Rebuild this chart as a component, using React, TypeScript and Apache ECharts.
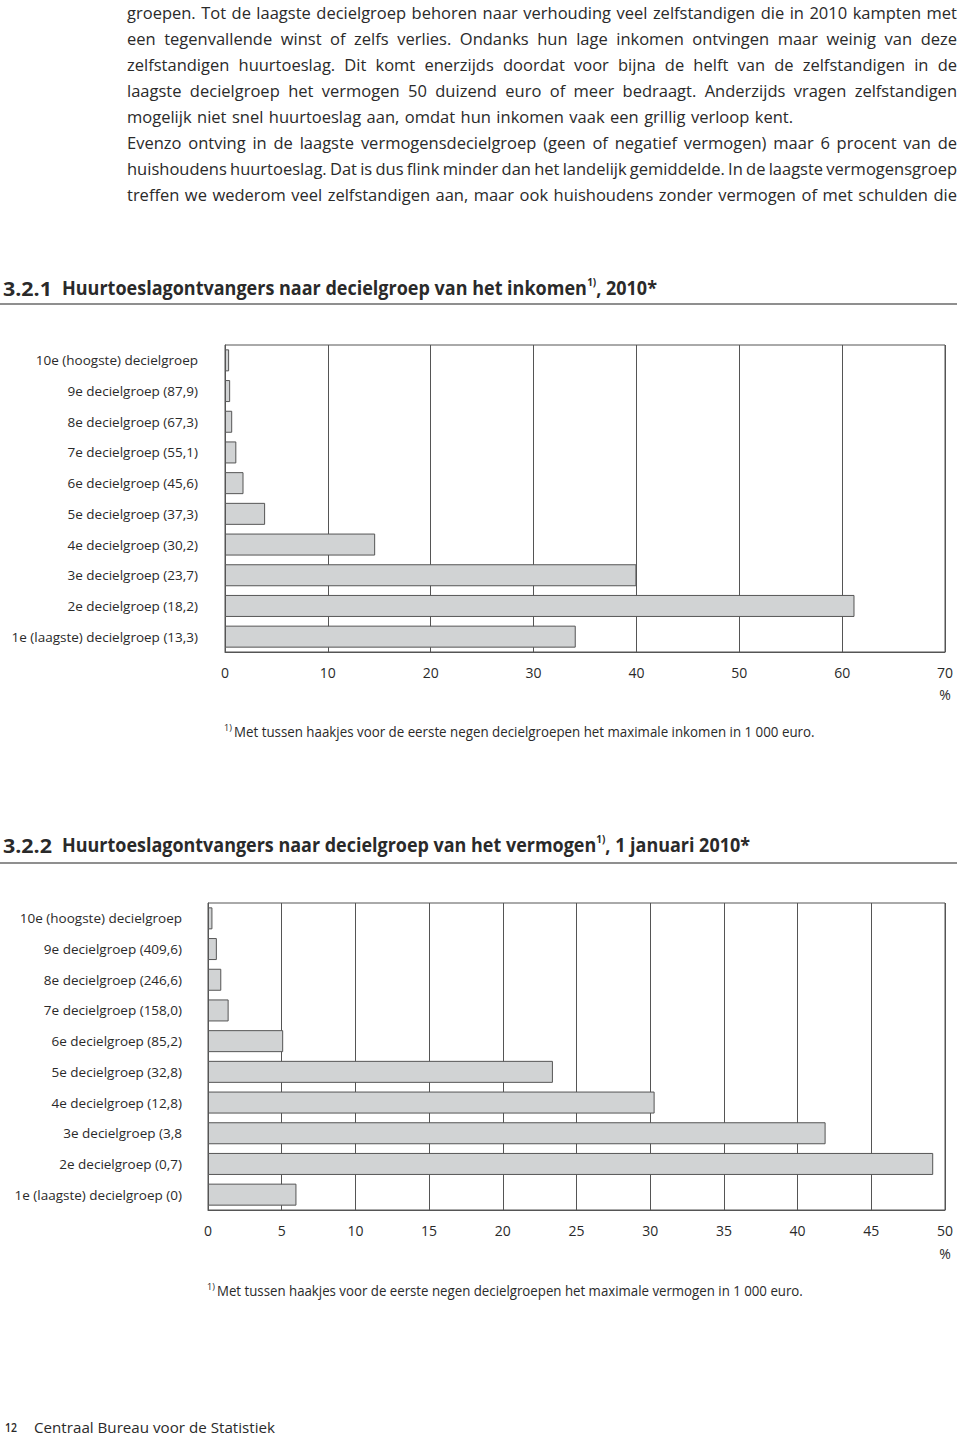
import React, { useEffect, useRef } from "react";
import * as echarts from "echarts";

// ---------- Data ----------
const incomeCategories = [
  "10e (hoogste) decielgroep",
  "9e decielgroep (87,9)",
  "8e decielgroep (67,3)",
  "7e decielgroep (55,1)",
  "6e decielgroep (45,6)",
  "5e decielgroep (37,3)",
  "4e decielgroep (30,2)",
  "3e decielgroep (23,7)",
  "2e decielgroep (18,2)",
  "1e (laagste) decielgroep (13,3)",
];
const incomeValues = [0.4, 0.5, 0.7, 1.1, 1.8, 3.9, 14.6, 40.0, 61.2, 34.1];
const incomeAxisMax = 70;
const incomeAxisStep = 10;

const wealthCategories = [
  "10e (hoogste) decielgroep",
  "9e decielgroep (409,6)",
  "8e decielgroep (246,6)",
  "7e decielgroep (158,0)",
  "6e decielgroep (85,2)",
  "5e decielgroep (32,8)",
  "4e decielgroep (12,8)",
  "3e decielgroep (3,8",
  "2e decielgroep (0,7)",
  "1e (laagste) decielgroep (0)",
];
const wealthValues = [0.3, 0.6, 0.9, 1.4, 5.1, 23.4, 30.3, 41.9, 49.2, 6.0];
const wealthAxisMax = 50;
const wealthAxisStep = 5;

const paragraphLines = [
  "groepen. Tot de laagste decielgroep behoren naar verhouding veel zelfstandigen die in 2010 kampten met",
  "een tegenvallende winst of zelfs verlies. Ondanks hun lage inkomen ontvingen maar weinig van deze",
  "zelfstandigen huurtoeslag. Dit komt enerzijds doordat voor bijna de helft van de zelfstandigen in de",
  "laagste decielgroep het vermogen 50 duizend euro of meer bedraagt. Anderzijds vragen zelfstandigen",
  "mogelijk niet snel huurtoeslag aan, omdat hun inkomen vaak een grillig verloop kent.",
  "Evenzo ontving in de laagste vermogensdecielgroep (geen of negatief vermogen) maar 6 procent van de",
  "huishoudens huurtoeslag. Dat is dus flink minder dan het landelijk gemiddelde. In de laagste vermogensgroep",
  "treffen we wederom veel zelfstandigen aan, maar ook huishoudens zonder vermogen of met schulden die",
];

const title1Num = "3.2.1";
const title1Main = "Huurtoeslagontvangers naar decielgroep van het inkomen";
const title1Rest = ", 2010*";
const title2Num = "3.2.2";
const title2Main = "Huurtoeslagontvangers naar decielgroep van het vermogen";
const title2Rest = ", 1 januari 2010*";
const footnoteMark = "1)";
const footnote1 = "Met tussen haakjes voor de eerste negen decielgroepen het maximale inkomen in 1 000 euro.";
const footnote2 = "Met tussen haakjes voor de eerste negen decielgroepen het maximale vermogen in 1 000 euro.";
const pageNumber = "12";
const publisher = "Centraal Bureau voor de Statistiek";
const unitLabel = "%";

// ---------- Layout helpers ----------
const FAMILY = '"Open Sans", "Noto Sans", sans-serif';
const TEXT = "#2a2a2a";
const LINE = "#555555";

let measureCtx: CanvasRenderingContext2D | null = null;
function measure(text: string, size: number, weight: number | string = 400) {
  if (!measureCtx) measureCtx = document.createElement("canvas").getContext("2d");
  measureCtx!.font = `${weight} ${size}px ${FAMILY}`;
  return measureCtx!.measureText(text).width;
}

function textEl(text: string, x: number, y: number, size: number, weight: number | string = 400, extra: any = {}) {
  return {
    type: "text",
    x,
    y,
    silent: true,
    style: {
      text,
      fill: TEXT,
      fontSize: size,
      fontWeight: weight,
      fontFamily: FAMILY,
      textVerticalAlign: "middle",
      ...extra,
    },
  };
}

function justifyLine(text: string, x0: number, y: number, width: number, size: number) {
  const words = text.split(" ");
  const ws = words.map((w) => measure(w, size));
  const sum = ws.reduce((a, b) => a + b, 0);
  const n = words.length;
  const minGap = size * 0.18;
  let gap = n > 1 ? (width - sum) / (n - 1) : 0;
  let scale = 1;
  if (gap < minGap) {
    gap = minGap;
    scale = width / (sum + (n - 1) * minGap);
  }
  let cx = 0;
  const children = words.map((w, i) => {
    const el = textEl(w, cx, 0, size);
    cx += ws[i] + gap;
    return el;
  });
  return { type: "group", x: x0, y, scaleX: scale, children };
}

type Seg = { text: string; size: number; weight?: number | string; dy?: number };
function fitSegments(segs: Seg[], x0: number, y: number, width: number) {
  let cx = 0;
  const children = segs.map((s) => {
    const el = textEl(s.text, cx, s.dy || 0, s.size, s.weight || 400);
    cx += measure(s.text, s.size, s.weight || 400);
    return el;
  });
  return { type: "group", x: x0, y, scaleX: width / cx, children };
}

// ---------- Component ----------
export default function App() {
  const ref = useRef<HTMLDivElement>(null);

  useEffect(() => {
    if (!ref.current) return;
    const chart = echarts.init(ref.current, undefined, { renderer: "svg" });

    const lineEnds = [957, 957, 957, 957, 793, 957, 957, 957];
    const paragraph = paragraphLines.map((l, i) => justifyLine(l, 127, 12 + i * 26, lineEnds[i] - 127, 16.5));

    const graphics: any[] = [
      ...paragraph,
      fitSegments([{ text: title1Num, size: 20, weight: 700 }], 3, 288, 49),
      fitSegments(
        [
          { text: title1Main, size: 20, weight: 700 },
          { text: footnoteMark, size: 11, weight: 700, dy: -6 },
          { text: title1Rest, size: 20, weight: 700 },
        ],
        62,
        288,
        595
      ),
      { type: "line", silent: true, shape: { x1: 0, y1: 304, x2: 957, y2: 304 }, style: { stroke: "#8f8f8f", lineWidth: 2 } },
      textEl(unitLabel, 945, 694, 14, 400, { textAlign: "center" }),
      textEl(footnoteMark, 224, 727, 9),
      fitSegments([{ text: footnote1, size: 14 }], 234, 731, 581),

      fitSegments([{ text: title2Num, size: 20, weight: 700 }], 3, 845, 49),
      fitSegments(
        [
          { text: title2Main, size: 20, weight: 700 },
          { text: footnoteMark, size: 11, weight: 700, dy: -6 },
          { text: title2Rest, size: 20, weight: 700 },
        ],
        62,
        845,
        688
      ),
      { type: "line", silent: true, shape: { x1: 0, y1: 863, x2: 957, y2: 863 }, style: { stroke: "#8f8f8f", lineWidth: 2 } },
      textEl(unitLabel, 945, 1253, 14, 400, { textAlign: "center" }),
      textEl(footnoteMark, 207, 1286, 9),
      fitSegments([{ text: footnote2, size: 14 }], 217, 1290, 586),

      fitSegments([{ text: pageNumber, size: 12, weight: 600 }], 5, 1427, 12),
      fitSegments([{ text: publisher, size: 15 }], 34, 1427, 241),
    ];

    const valueAxis = (gridIndex: number, max: number, step: number) => ({
      type: "value",
      gridIndex,
      min: 0,
      max,
      interval: step,
      axisLine: { show: true, lineStyle: { color: LINE, width: 1 } },
      axisTick: { show: false },
      splitLine: { show: true, lineStyle: { color: LINE, width: 1 } },
      axisLabel: { color: TEXT, fontSize: 14, fontFamily: FAMILY, margin: 13 },
    });
    const catAxis = (gridIndex: number, data: string[], margin: number) => ({
      type: "category",
      gridIndex,
      data,
      inverse: true,
      axisLine: { show: true, lineStyle: { color: LINE, width: 1 } },
      axisTick: { show: false },
      splitLine: { show: false },
      axisLabel: { color: TEXT, fontSize: 13.5, fontFamily: FAMILY, margin, interval: 0 },
    });
    const barStyle = { color: "#d1d3d4", borderColor: "#555555", borderWidth: 1 };

    chart.setOption({
      animation: false,
      backgroundColor: "#ffffff",
      grid: [
        { left: 225, top: 345, width: 720, height: 307, show: true, borderColor: LINE, borderWidth: 1, backgroundColor: "transparent" },
        { left: 208, top: 903, width: 737, height: 307, show: true, borderColor: LINE, borderWidth: 1, backgroundColor: "transparent" },
      ],
      xAxis: [valueAxis(0, incomeAxisMax, incomeAxisStep), valueAxis(1, wealthAxisMax, wealthAxisStep)],
      yAxis: [catAxis(0, incomeCategories, 27), catAxis(1, wealthCategories, 26)],
      series: [
        { type: "bar", xAxisIndex: 0, yAxisIndex: 0, data: incomeValues, barWidth: 22, itemStyle: barStyle, silent: true },
        { type: "bar", xAxisIndex: 1, yAxisIndex: 1, data: wealthValues, barWidth: 22, itemStyle: barStyle, silent: true },
      ],
      graphic: graphics,
    });

    return () => chart.dispose();
  }, []);

  return (
    <div
      ref={ref}
      style={{ position: "absolute", left: 0, top: 0, width: 960, height: 1438, background: "#fff" }}
    />
  );
}
